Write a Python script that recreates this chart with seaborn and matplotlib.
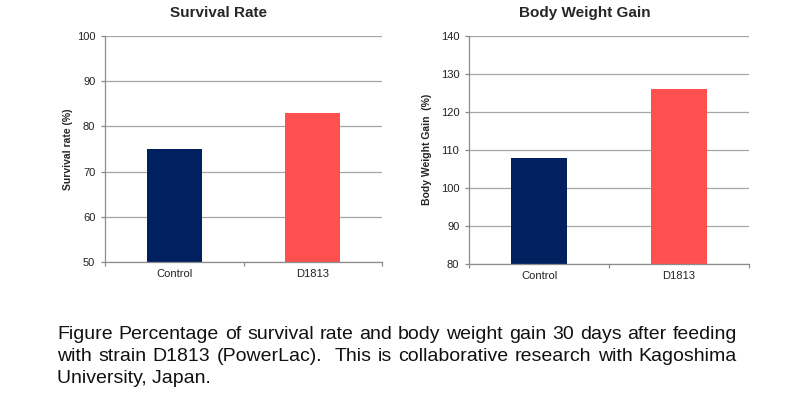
import matplotlib
matplotlib.use("Agg")
import matplotlib.pyplot as plt
import seaborn as sns
import pandas as pd

sns.set_style("white")
plt.rcParams['font.family'] = ['Liberation Sans', 'DejaVu Sans']

# ---- data ----
groups = ["Control", "D1813"]
survival = [75, 83]
weight_gain = [108, 126]
bar_colors = ["#002060", "#FF5050"]
titles = ["Survival Rate", "Body Weight Gain"]
ylabels = ["Survival rate (%)", "Body Weight Gain  (%)"]
yticks_left = [50, 60, 70, 80, 90, 100]
yticks_right = [80, 90, 100, 110, 120, 130, 140]
caption_lines = [
    "Figure Percentage of survival rate and body weight gain 30 days after feeding",
    "with strain D1813 (PowerLac).  This is collaborative research with Kagoshima",
    "University, Japan.",
]

W, H = 796, 396
fig = plt.figure(figsize=(W / 100, H / 100), dpi=100)

def px_axes(x0, y0, x1, y1):
    return fig.add_axes([x0 / W, 1 - y1 / H, (x1 - x0) / W, (y1 - y0) / H])

ax1 = px_axes(105, 36, 382, 262)
ax2 = px_axes(469, 36, 749, 264)

grid_c = "#A6A6A6"
axis_c = "#8C8C8C"

specs = [
    (ax1, survival, yticks_left, titles[0], ylabels[0], 219, 68),
    (ax2, weight_gain, yticks_right, titles[1], ylabels[1], 585, 427),
]

for ax, vals, ticks, title, ylab, tx, lx in specs:
    df = pd.DataFrame({"group": groups, "value": vals})
    sns.barplot(data=df, x="group", y="value", hue="group", palette=bar_colors,
                legend=False, width=0.4, ax=ax, saturation=1, linewidth=0)
    ax.set_xlim(-0.5, 1.5)
    ax.set_ylim(ticks[0], ticks[-1])
    ax.set_yticks(ticks)
    ax.set_yticklabels([str(t) for t in ticks], fontsize=8, color="#222222")
    ax.set_axisbelow(True)
    ax.yaxis.grid(True, color=grid_c, linewidth=0.9)
    ax.xaxis.grid(False)
    for s in ["top", "right"]:
        ax.spines[s].set_visible(False)
    for s in ["left", "bottom"]:
        ax.spines[s].set_color(axis_c)
        ax.spines[s].set_linewidth(0.9)
    ax.tick_params(axis="y", left=True, length=3, width=0.9, color=axis_c, pad=4)
    ax.tick_params(axis="x", which="major", length=0, labelsize=8, pad=5,
                   labelcolor="#222222")
    ax.set_xticks([-0.5, 0.5, 1.5], minor=True)
    ax.tick_params(axis="x", which="minor", bottom=True, length=3, width=0.9,
                   color=axis_c)
    ax.set_xlabel("")
    ax.set_ylabel("")
    fig.text(tx / W, 1 - 13 / H, title, ha="center", va="center",
             fontsize=11, fontweight="bold")
    fig.text(lx / W, 1 - 149 / H, ylab, ha="center", va="center",
             rotation=90, fontsize=7.5, fontweight="bold")

# ---- justified caption ----
fig.canvas.draw()
renderer = fig.canvas.get_renderer()
x_left, x_right = 57, 737
baselines = [339, 361, 383]
fs = 14
for i, (line, by) in enumerate(zip(caption_lines, baselines)):
    if i == len(caption_lines) - 1:
        fig.text(x_left / W, 1 - by / H, line, ha="left", va="baseline",
                 fontsize=fs, color="#111111")
        continue
    words = line.split(" ")
    texts = []
    widths = []
    for w in words:
        t = fig.text(0, 1 - by / H, w, ha="left", va="baseline", fontsize=fs,
                     color="#111111")
        bb = t.get_window_extent(renderer=renderer) if w else None
        texts.append(t)
        widths.append(bb.width if bb is not None else 0)
    gap = (x_right - x_left - sum(widths)) / (len(words) - 1)
    x = x_left
    for t, wd in zip(texts, widths):
        t.set_x(x / W)
        x += wd + gap

fig.savefig("out.png", dpi=100)
